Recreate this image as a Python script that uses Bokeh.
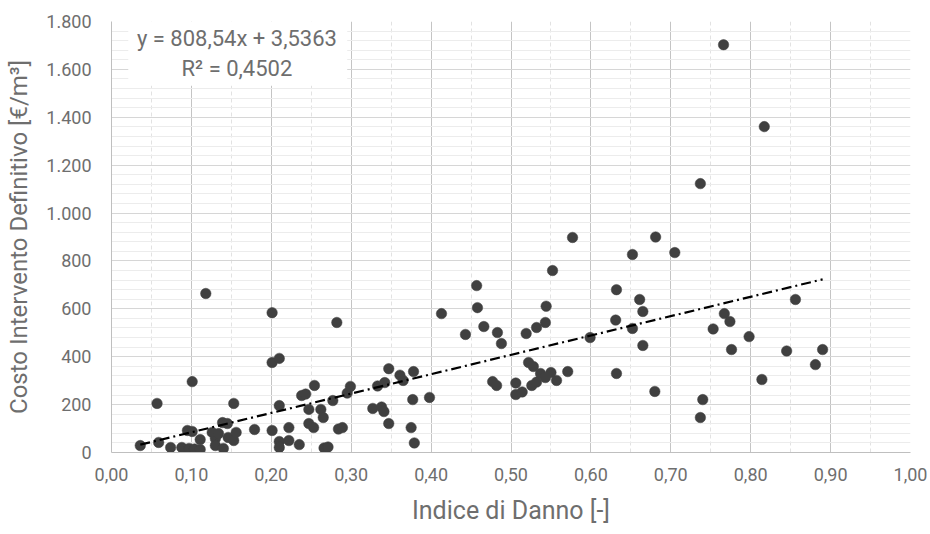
from bokeh.plotting import figure
from bokeh.models import FixedTicker, Label, BoxAnnotation, ColumnDataSource, Range1d
from bokeh.embed import file_html
from bokeh.resources import INLINE

# ---- data ----
indice_danno = [
    0.036, 0.059, 0.057, 0.074, 0.088, 0.097, 0.104, 0.111, 0.101, 0.095,
    0.101, 0.118, 0.111, 0.126, 0.130, 0.130, 0.139, 0.145, 0.140, 0.134,
    0.146, 0.153, 0.156, 0.153, 0.179, 0.201, 0.210, 0.201, 0.201, 0.210,
    0.210, 0.210, 0.222, 0.222, 0.235, 0.238, 0.243, 0.254, 0.247, 0.253,
    0.247, 0.262, 0.265, 0.266, 0.271, 0.282, 0.277, 0.284, 0.289, 0.295,
    0.299, 0.327, 0.333, 0.342, 0.338, 0.341, 0.347, 0.347, 0.361, 0.365,
    0.378, 0.377, 0.375, 0.379, 0.398, 0.413, 0.443, 0.457, 0.458, 0.466,
    0.483, 0.488, 0.477, 0.482, 0.506, 0.506, 0.514, 0.519, 0.522, 0.528,
    0.526, 0.532, 0.532, 0.537, 0.543, 0.550, 0.543, 0.544, 0.552, 0.557,
    0.571, 0.577, 0.599, 0.632, 0.631, 0.632, 0.652, 0.652, 0.661, 0.665,
    0.665, 0.681, 0.680, 0.705, 0.737, 0.740, 0.737, 0.753, 0.767, 0.774,
    0.776, 0.798, 0.814, 0.766, 0.817, 0.856, 0.845, 0.890, 0.881,
]
costo = [
    29, 42, 205, 21, 21, 17, 15, 13, 296, 92,
    88, 664, 54, 84, 58, 29, 125, 121, 17, 79,
    63, 50, 84, 205, 96, 376, 393, 584, 92, 196,
    46, 21, 50, 104, 33, 238, 244, 280, 121, 104,
    180, 180, 146, 19, 23, 543, 217, 98, 104, 248,
    276, 184, 278, 292, 190, 171, 121, 350, 323, 301,
    338, 221, 104, 40, 230, 580, 493, 697, 605, 526,
    501, 455, 296, 280, 290, 242, 253, 497, 376, 359,
    280, 294, 522, 330, 313, 334, 543, 611, 760, 301,
    338, 898, 480, 680, 553, 330, 827, 518, 639, 589,
    447, 900, 255, 835, 1123, 221, 146, 516, 580, 547,
    430, 484, 305, 1703, 1361, 639, 424, 430, 367,
]

x_ticks = [0.0, 0.1, 0.2, 0.3, 0.4, 0.5, 0.6, 0.7, 0.8, 0.9, 1.0]
x_tick_labels = ["0,00", "0,10", "0,20", "0,30", "0,40", "0,50",
                 "0,60", "0,70", "0,80", "0,90", "1,00"]
x_minor = [0.05, 0.15, 0.25, 0.35, 0.45, 0.55, 0.65, 0.75, 0.85, 0.95]
y_ticks = [0, 200, 400, 600, 800, 1000, 1200, 1400, 1600, 1800]
y_tick_labels = ["0", "200", "400", "600", "800", "1.000",
                 "1.200", "1.400", "1.600", "1.800"]
y_minor = [v for v in range(0, 1801, 40) if v % 200]

slope = 808.54
intercept = 3.5363
eq_text = "y = 808,54x + 3,5363"
r2_text = "R\u00b2 = 0,4502"
x_title = "Indice di Danno [-]"
y_title = "Costo Intervento Definitivo [\u20ac/m\u00b3]"

FONT = "Roboto"
TXT = "#6e6e6e"

p = figure(frame_width=799, frame_height=431,
           min_border_left=111, min_border_right=20,
           min_border_top=21, min_border_bottom=82,
           x_range=Range1d(0, 1), y_range=Range1d(0, 1800),
           output_backend="svg", toolbar_location=None)
p.outline_line_color = None
p.background_fill_color = "white"
p.border_fill_color = "white"

p.xaxis.ticker = FixedTicker(ticks=x_ticks, minor_ticks=x_minor)
p.yaxis.ticker = FixedTicker(ticks=y_ticks, minor_ticks=y_minor)
p.xaxis.major_label_overrides = {t: l for t, l in zip(x_ticks, x_tick_labels)}
p.yaxis.major_label_overrides = {t: l for t, l in zip(y_ticks, y_tick_labels)}

for ax in (p.xaxis, p.yaxis):
    ax.axis_line_color = "#bfbfbf"
    ax.major_tick_line_color = None
    ax.minor_tick_line_color = None
    ax.major_tick_out = 0
    ax.major_tick_in = 0
    ax.minor_tick_out = 0
    ax.minor_tick_in = 0
    ax.major_label_text_font = FONT
    ax.major_label_text_font_size = "18px"
    ax.major_label_text_color = TXT
    ax.axis_label_text_font = FONT
    ax.axis_label_text_font_style = "normal"
    ax.axis_label_text_color = TXT

p.xaxis.axis_label = x_title
p.yaxis.axis_label = y_title
p.xaxis.axis_label_text_font_size = "25px"
p.yaxis.axis_label_text_font_size = "24px"
p.xaxis.major_label_standoff = 15
p.yaxis.major_label_standoff = 20
p.xaxis.axis_label_standoff = 12
p.yaxis.axis_label_standoff = 10

p.xgrid.grid_line_color = "#c4c4c4"
p.xgrid.minor_grid_line_color = "#e2e2e2"
p.xgrid.minor_grid_line_dash = "4 3"
p.ygrid.grid_line_color = "#d6d6d6"
p.ygrid.minor_grid_line_color = "#ececec"

src = ColumnDataSource(dict(x=indice_danno, y=costo))
p.scatter("x", "y", source=src, size=10.5, fill_color="#404040",
          line_color="#404040", line_width=0.5)

x_lo, x_hi = min(indice_danno), max(indice_danno)
p.line([x_lo, x_hi], [slope * x_lo + intercept, slope * x_hi + intercept],
       line_color="black", line_width=2.2, line_dash="10 4 2 4")

box = BoxAnnotation(left=0.021, right=0.295, bottom=1532, top=1800,
                    fill_color="white", fill_alpha=1.0, line_color=None)
p.add_layout(box)
p.add_layout(Label(x=0.157, y=1729, text=eq_text, text_align="center",
                   text_baseline="middle", text_font=FONT,
                   text_font_size="22px", text_color=TXT))
p.add_layout(Label(x=0.157, y=1603, text=r2_text, text_align="center",
                   text_baseline="middle", text_font=FONT,
                   text_font_size="22px", text_color=TXT))

open("out.html", "w").write(file_html(p, INLINE))
